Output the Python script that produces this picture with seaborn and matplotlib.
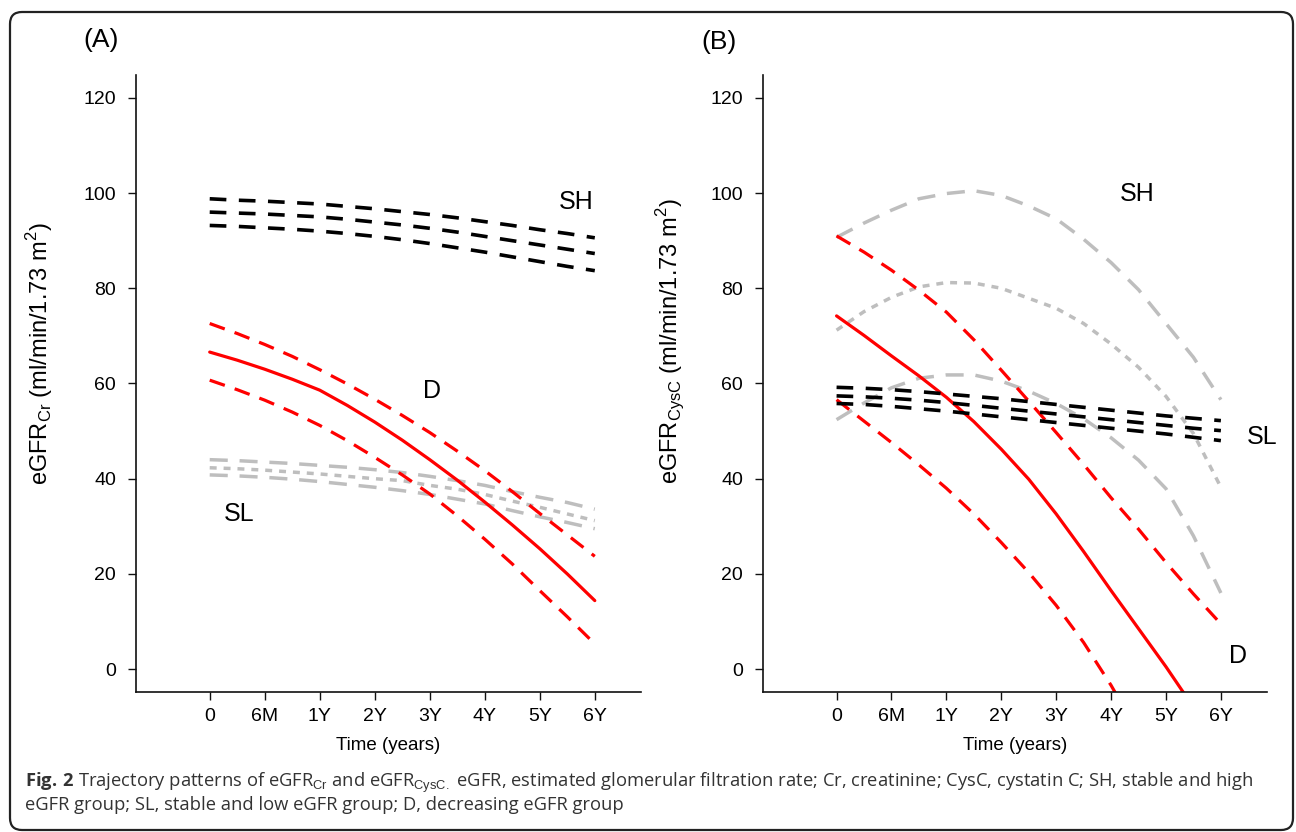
import matplotlib
matplotlib.use("Agg")
import matplotlib.pyplot as plt
import seaborn as sns
from matplotlib.patches import FancyBboxPatch

# time axis: categories 0, 6M, 1Y ... 6Y, values read every half step
time_pos = [0, 0.5, 1, 1.5, 2, 2.5, 3, 3.5, 4, 4.5, 5, 5.5, 6, 6.5, 7]
time_ticks = [0, 1, 2, 3, 4, 5, 6, 7]
time_labels = ['0', '6M', '1Y', '2Y', '3Y', '4Y', '5Y', '6Y']
y_ticks = [0, 20, 40, 60, 80, 100, 120]

# (A) eGFR Cr
a_sh_upper = [98.8, 98.5, 98.3, 98.0, 97.7, 97.2, 96.7, 96.1, 95.5, 94.8, 94.0, 93.2, 92.3, 91.5, 90.6]
a_sh_mid = [96.0, 95.8, 95.6, 95.3, 95.0, 94.5, 93.9, 93.3, 92.6, 91.8, 90.9, 90.0, 89.1, 88.2, 87.3]
a_sh_lower = [93.2, 93.0, 92.7, 92.4, 92.0, 91.5, 90.9, 90.2, 89.4, 88.5, 87.6, 86.6, 85.6, 84.6, 83.7]
a_d_upper = [72.6, 70.5, 68.2, 65.7, 62.9, 59.9, 56.7, 53.3, 49.7, 45.8, 41.7, 37.3, 32.7, 28.2, 23.7]
a_d_mean = [66.6, 64.9, 63.0, 60.9, 58.6, 55.4, 51.9, 48.1, 44.0, 39.7, 35.1, 30.3, 25.3, 20.0, 14.4]
a_d_lower = [60.7, 58.7, 56.5, 54.0, 51.2, 48.0, 44.5, 40.8, 36.8, 32.2, 27.3, 22.1, 16.5, 11.0, 5.3]
a_sl_upper = [44.0, 43.8, 43.5, 43.2, 42.8, 42.4, 41.9, 41.3, 40.5, 39.6, 38.6, 37.3, 36.1, 35.0, 33.6]
a_sl_mid = [42.3, 42.1, 41.8, 41.4, 41.0, 40.5, 40.0, 39.6, 38.6, 37.8, 36.7, 35.3, 34.0, 32.6, 31.2]
a_sl_lower = [40.8, 40.6, 40.3, 39.9, 39.4, 38.8, 38.2, 37.5, 36.7, 35.7, 34.7, 33.3, 32.0, 30.8, 29.5]

# (B) eGFR CysC
b_sh_upper = [90.7, 93.7, 96.4, 98.8, 99.9, 100.5, 99.5, 97.3, 94.6, 90.3, 85.4, 79.7, 72.6, 65.5, 56.6]
b_sh_mid = [71.2, 75.1, 78.1, 80.3, 81.2, 81.1, 80.0, 77.9, 75.8, 72.6, 68.3, 63.4, 57.3, 49.5, 38.2]
b_sh_lower = [52.4, 55.9, 59.1, 61.1, 61.8, 61.8, 60.5, 58.4, 55.8, 52.6, 48.6, 43.9, 37.9, 28.0, 16.0]
b_d_upper = [91.0, 87.6, 83.8, 79.6, 75.0, 69.2, 62.8, 56.3, 49.7, 43.0, 36.0, 29.4, 22.4, 15.8, 9.5]
b_d_mean = [74.2, 70.1, 65.8, 61.6, 57.1, 52.0, 46.2, 39.9, 32.6, 24.7, 16.5, 8.5, 0.5, -8.0, -16.5]
b_d_lower = [56.6, 52.1, 47.6, 42.9, 38.0, 32.6, 26.6, 20.3, 13.4, 5.6, -3.4, -13.5, -24.5, -36.5, -49.0]
b_sl_upper = [59.2, 59.0, 58.7, 58.3, 57.8, 57.3, 56.8, 56.2, 55.6, 55.0, 54.4, 53.8, 53.2, 52.7, 52.2]
b_sl_mid = [57.4, 57.2, 56.9, 56.5, 56.0, 55.4, 54.8, 54.2, 53.6, 53.0, 52.4, 51.8, 51.2, 50.6, 50.1]
b_sl_lower = [55.8, 55.6, 55.2, 54.7, 54.2, 53.6, 53.0, 52.4, 51.8, 51.2, 50.6, 50.0, 49.4, 48.7, 48.0]

sns.set_style("ticks")
plt.rcParams['font.family'] = ['Liberation Sans', 'DejaVu Sans']
plt.rcParams['text.color'] = 'black'
plt.rcParams['mathtext.fontset'] = 'custom'
plt.rcParams['mathtext.rm'] = 'Liberation Sans'
plt.rcParams['mathtext.bf'] = 'Open Sans:bold'
plt.rcParams['lines.scale_dashes'] = False

GREY = '#BEBEBE'
RED = '#FF0000'
BLACK = '#000000'
long_dash = (0, (13, 8.5))
short_dash = (0, (5, 5))
red_dash = (0, (11.5, 7.5))
black_dash = (0, (12, 9))

W, H = 1296, 832
fig = plt.figure(figsize=(W / 100, H / 100), dpi=100)


def px_axes(left, top, right, bottom):
    return fig.add_axes([left / W, 1 - bottom / H, (right - left) / W, (bottom - top) / H])


ax_a = px_axes(136, 75, 641, 692)
ax_b = px_axes(763, 75, 1267, 692)

panels = {
    ax_a: [
        (a_sl_upper, GREY, 2.5, long_dash),
        (a_sl_mid, GREY, 2.5, short_dash),
        (a_sl_lower, GREY, 2.5, long_dash),
        (a_sh_upper, BLACK, 2.6, black_dash),
        (a_sh_mid, BLACK, 2.6, black_dash),
        (a_sh_lower, BLACK, 2.6, black_dash),
        (a_d_upper, RED, 2.3, red_dash),
        (a_d_mean, RED, 2.3, '-'),
        (a_d_lower, RED, 2.3, red_dash),
    ],
    ax_b: [
        (b_sh_upper, GREY, 2.5, long_dash),
        (b_sh_mid, GREY, 2.5, short_dash),
        (b_sh_lower, GREY, 2.5, long_dash),
        (b_d_upper, RED, 2.3, red_dash),
        (b_d_mean, RED, 2.3, '-'),
        (b_d_lower, RED, 2.3, red_dash),
        (b_sl_upper, BLACK, 2.6, black_dash),
        (b_sl_mid, BLACK, 2.6, black_dash),
        (b_sl_lower, BLACK, 2.6, black_dash),
    ],
}

for ax, lines in panels.items():
    for vals, col, lw, ls in lines:
        sns.lineplot(x=time_pos, y=vals, ax=ax, color=col, linewidth=lw,
                     linestyle=ls, errorbar=None)
    ax.set_xlim(-1.34, 7.84)
    ax.set_ylim(-4.8, 124.8)
    ax.set_xticks(time_ticks)
    ax.set_xticklabels(time_labels)
    ax.set_yticks(y_ticks)
    ax.set_xlabel('')
    ax.set_ylabel('')
    sns.despine(ax=ax)
    for side in ['left', 'bottom']:
        ax.spines[side].set_color('#111111')
        ax.spines[side].set_linewidth(1.2)
    ax.tick_params(direction='out', length=5.8, width=1, color='#111111',
                   labelsize=14, labelcolor='black')
    ax.tick_params(axis='y', pad=8.5)
    ax.tick_params(axis='x', pad=5.5)

# group labels
ax_a.text(6.67, 98.1, 'SH', fontsize=18, ha='center', va='center')
ax_a.text(4.04, 58.4, 'D', fontsize=18, ha='center', va='center')
ax_a.text(0.53, 32.6, 'SL', fontsize=18, ha='center', va='center')
ax_b.text(5.47, 99.8, 'SH', fontsize=18, ha='center', va='center')
ax_b.text(7.76, 48.8, 'SL', fontsize=18, ha='center', va='center', clip_on=False)
ax_b.text(7.31, 2.7, 'D', fontsize=18, ha='center', va='center')

# panel tags and axis titles
fig.text(101 / W, 1 - 40 / H, '(A)', fontsize=19, ha='center', va='center')
fig.text(719 / W, 1 - 42 / H, '(B)', fontsize=19, ha='center', va='center')
fig.text(40 / W, 1 - 354 / H, r'eGFR$_{\mathrm{Cr}}$ (ml/min/1.73 m$^{\mathrm{2}}$)',
         rotation=90, fontsize=17, ha='center', va='center')
fig.text(671 / W, 1 - 341 / H, r'eGFR$_{\mathrm{CysC}}$ (ml/min/1.73 m$^{\mathrm{2}}$)',
         rotation=90, fontsize=17, ha='center', va='center')
fig.text(388 / W, 1 - 745 / H, 'Time (years)', fontsize=13.5, ha='center', va='center')
fig.text(1015 / W, 1 - 745 / H, 'Time (years)', fontsize=13.5, ha='center', va='center')

# caption
cap1 = (r"$\mathbf{Fig.\,2}$ Trajectory patterns of eGFR$_{\mathrm{Cr}}$ and eGFR$_{\mathrm{CysC.}}$"
        "eGFR, estimated glomerular filtration rate; Cr, creatinine; CysC, cystatin C; "
        "SH, stable and high")
cap1 = cap1.replace("$eGFR, est", "$ eGFR, est")
cap2 = "eGFR group; SL, stable and low eGFR group; D, decreasing eGFR group"
fig.text(25 / W, 1 - 787 / H, cap1, fontsize=13.2, family='Open Sans', color='#333333', va='baseline')
fig.text(25 / W, 1 - 810 / H, cap2, fontsize=13.2, family='Open Sans', color='#333333', va='baseline')

# rounded frame around the figure
frame = FancyBboxPatch((0.10, 0.02), 12.83, 8.18,
                       boxstyle='round,pad=0,rounding_size=0.12',
                       transform=fig.dpi_scale_trans, fill=False,
                       edgecolor='#222222', linewidth=1.6)
fig.add_artist(frame)

fig.savefig('out.png', dpi=100, facecolor='white')
